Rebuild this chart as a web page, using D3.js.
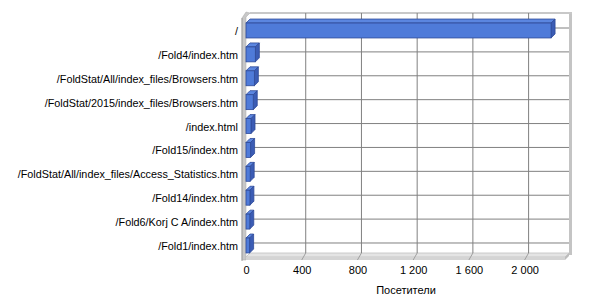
<!DOCTYPE html>
<html>
<head>
<meta charset="utf-8">
<script src="https://cdn.jsdelivr.net/npm/d3@7"></script>
<style>
  body { margin: 0; background: #fff; }
  .tick text { font-family: "Liberation Sans", Arial, sans-serif; font-size: 11px; fill: #000; }
  .yaxis .tick text { font-size: 10.8px; }
  .axisText { font-family: "Liberation Sans", Arial, sans-serif; font-size: 11px; fill: #000; }
</style>
</head>
<body>
<div class="chart"></div>
<script>
var pages = ["/", "/Fold4/index.htm", "/FoldStat/All/index_files/Browsers.htm",
  "/FoldStat/2015/index_files/Browsers.htm", "/index.html", "/Fold15/index.htm",
  "/FoldStat/All/index_files/Access_Statistics.htm", "/Fold14/index.htm",
  "/Fold6/Korj C A/index.htm", "/Fold1/index.htm"];
var visitors = [2190, 67, 60, 52, 36, 33, 30, 28, 27, 26];
var xTicks = [0, 400, 800, 1200, 1600, 2000];
var xTitle = "Посетители";

var svgWidth = 600;
var svgHeight = 300;

// 3D depth offset of the back wall
var dx = 4, dy = -4;

var svg = d3.select(".chart")
  .append("svg")
  .attr("width", svgWidth)
  .attr("height", svgHeight);

var xScale = d3.scaleLinear()
  .domain([0, 2290])
  .range([246, 565]);

var yScale = d3.scaleBand()
  .domain(pages)
  .range([18.5, 257.5])
  .paddingInner(0.375)
  .paddingOuter(0.19);

var floorY = 257, topY = 17;
var x0 = xScale.range()[0], x1 = xScale.range()[1];

// walls and floor
svg.append("rect")
  .attr("x", x0 + dx).attr("y", topY + dy)
  .attr("width", x1 - x0).attr("height", floorY - topY)
  .attr("fill", "#fff");

// left wall
svg.append("polygon")
  .attr("points", [[x0 - 4, topY + 1], [x0, topY + dy - 1], [x0 + dx, topY + dy], [x0, topY], [x0, floorY + 3], [x0 - 4, floorY + 3]].join(" "))
  .attr("fill", "#c8c8c8")
  .attr("stroke", "#a8a8a8")
  .attr("stroke-width", 0.5);
svg.append("line")
  .attr("x1", x0 - 4).attr("x2", x0 - 4)
  .attr("y1", topY + 1).attr("y2", floorY + 4)
  .attr("stroke", "#a0a0a0");

// floor
svg.append("polygon")
  .attr("points", [[x0, floorY], [x0 + dx, floorY + dy], [x1 + dx, floorY + dy], [x1, floorY]].join(" "))
  .attr("fill", "#e4e4e4")
  .attr("stroke", "#c0c0c0")
  .attr("stroke-width", 0.8);
svg.append("rect")
  .attr("x", x0).attr("y", floorY)
  .attr("width", x1 - x0).attr("height", 3)
  .attr("fill", "#d4d4d4");
svg.append("polygon")
  .attr("points", [[x1, floorY], [x1 + dx, floorY + dy], [x1 + dx, floorY + dy + 3], [x1, floorY + 3]].join(" "))
  .attr("fill", "#bdbdbd");

// right wall strip
svg.append("rect")
  .attr("x", x1 + dx).attr("y", topY + dy - 1)
  .attr("width", 3).attr("height", floorY - topY + 3)
  .attr("fill", "#c4c4c4");

// top edge
svg.append("line")
  .attr("x1", x0 + dx).attr("x2", x1 + dx + 3)
  .attr("y1", topY + dy).attr("y2", topY + dy)
  .attr("stroke", "#c8c8c8")
  .attr("stroke-width", 2);

// vertical gridlines on back wall and floor
var grid = svg.append("g");
grid.selectAll(".vg")
  .data(xTicks.slice(1))
  .enter()
  .append("line")
  .attr("x1", d => xScale(d) + dx)
  .attr("x2", d => xScale(d) + dx)
  .attr("y1", topY + dy)
  .attr("y2", floorY + dy)
  .attr("stroke", "#808080");
grid.selectAll(".fg")
  .data(xTicks.slice(1))
  .enter()
  .append("line")
  .attr("x1", d => xScale(d) + dx)
  .attr("x2", d => xScale(d))
  .attr("y1", floorY + dy)
  .attr("y2", floorY + 3)
  .attr("stroke", "#a0a0a0");

// horizontal gridlines on back wall
grid.selectAll(".hg")
  .data(pages)
  .enter()
  .append("line")
  .attr("x1", x0 + dx)
  .attr("x2", x1 + dx)
  .attr("y1", d => yScale(d) + yScale.bandwidth() / 2 - 2.5)
  .attr("y2", d => yScale(d) + yScale.bandwidth() / 2 - 2.5)
  .attr("stroke", "#808080");

// 3D bars
var bh = yScale.bandwidth();
var bars = svg.selectAll(".bar")
  .data(pages)
  .enter()
  .append("g");

bars.append("polygon")
  .attr("points", (d, i) => {
    var xa = xScale(0), xb = xScale(visitors[i]), y = yScale(d);
    return [[xa, y], [xa + dx, y + dy], [xb + dx, y + dy], [xb, y]].join(" ");
  })
  .attr("fill", "#5b86e0")
  .attr("stroke", "#2e4a98")
  .attr("stroke-width", 0.8);

bars.append("polygon")
  .attr("points", (d, i) => {
    var xb = xScale(visitors[i]), y = yScale(d);
    return [[xb, y], [xb + dx, y + dy], [xb + dx, y + dy + bh], [xb, y + bh]].join(" ");
  })
  .attr("fill", "#3b5cb4")
  .attr("stroke", "#2e4a98")
  .attr("stroke-width", 0.8);

bars.append("rect")
  .attr("x", xScale(0))
  .attr("y", d => yScale(d))
  .attr("width", (d, i) => xScale(visitors[i]) - xScale(0))
  .attr("height", bh)
  .attr("fill", "#4f7bd9")
  .attr("stroke", "#2e4a98")
  .attr("stroke-width", 0.8);

// axes
var fmt = d3.formatLocale({ decimal: ",", thousands: "\u00a0", grouping: [3], currency: ["", ""] }).format(",d");

var bottomAxis = d3.axisBottom(xScale)
  .tickValues(xTicks)
  .tickFormat(fmt)
  .tickSize(0)
  .tickPadding(0);

svg.append("g")
  .attr("transform", "translate(0, 266)")
  .call(bottomAxis)
  .call(g => g.select(".domain").remove());

var leftAxis = d3.axisLeft(yScale)
  .tickSize(0)
  .tickPadding(0);

svg.append("g")
  .attr("class", "yaxis")
  .attr("transform", "translate(238, 1)")
  .call(leftAxis)
  .call(g => g.select(".domain").remove());

svg.append("text")
  .attr("x", 406)
  .attr("y", 294)
  .attr("text-anchor", "middle")
  .attr("class", "axisText")
  .text(xTitle);
</script>
</body>
</html>
